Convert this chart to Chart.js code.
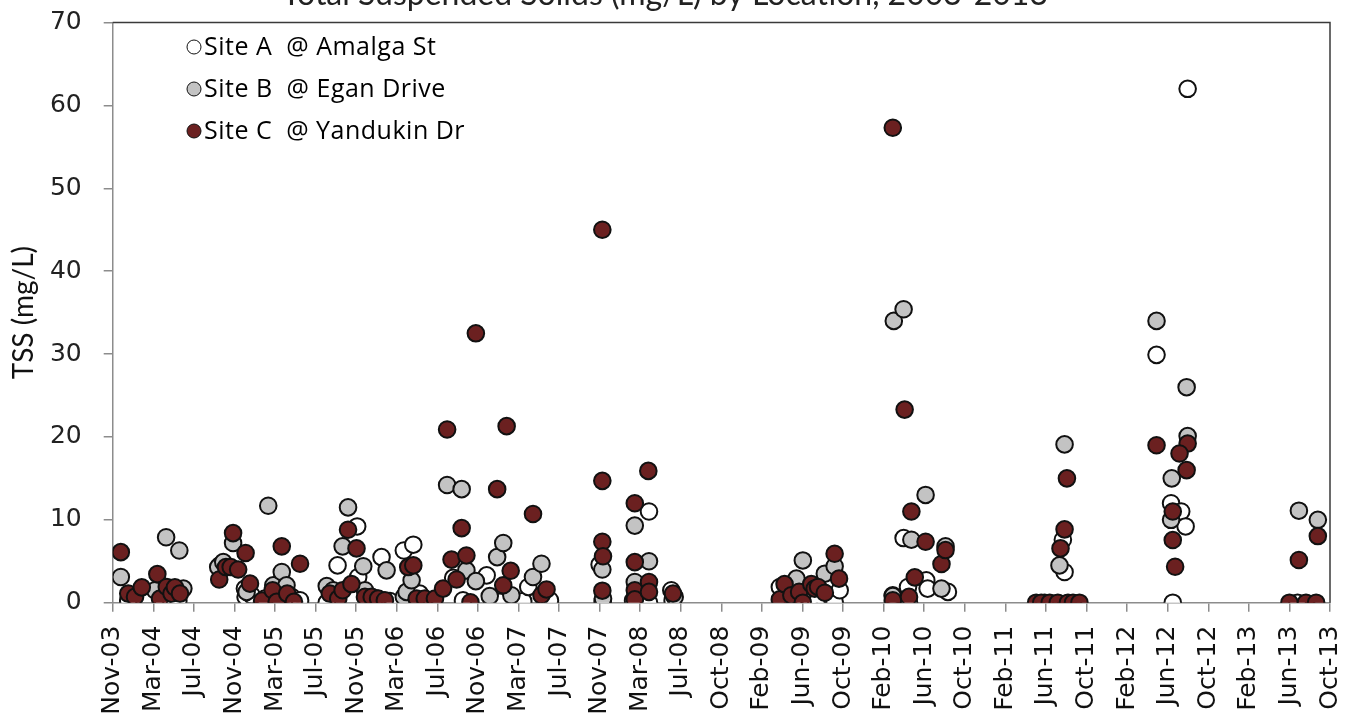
<!DOCTYPE html>
<html>
<head>
<meta charset="utf-8">
<script src="https://cdn.jsdelivr.net/npm/chart.js@4/dist/chart.umd.min.js"></script>
<style>
  html, body { margin: 0; padding: 0; background: #fff; overflow: hidden; }
  #wrap { position: absolute; left: 0; top: -26px; width: 1355px; height: 745px; }
</style>
</head>
<body>
<div id="wrap"><canvas id="c" width="1355" height="745"></canvas></div>
<script>
// ---- data (x = days after 25-Nov-2003, y = TSS mg/L) ----
const tickLabels = ["Nov-03","Mar-04","Jul-04","Nov-04","Mar-05","Jul-05","Nov-05","Mar-06","Jul-06","Nov-06","Mar-07","Jul-07","Nov-07","Mar-08","Jul-08","Oct-08","Feb-09","Jun-09","Oct-09","Feb-10","Jun-10","Oct-10","Feb-11","Jun-11","Oct-11","Feb-12","Jun-12","Oct-12","Feb-13","Jun-13","Oct-13"];
const seriesNames = ["Site A  @ Amalga St", "Site B  @ Egan Drive", "Site C  @ Yandukin Dr"];

const siteA_days = [46,150,174,194,317,391,393,411,450,529,554,633,665,723,726,780,795,820,861,889,908,1007,1036,1106,1145,1214,1229,1293,1440,1449,1539,1586,1586,1652,1656,1973,2012,2061,2081,2135,2150,2307,2339,2352,2355,2406,2410,2470,2756,2810,2815,3087,3130,3135,3160,3173,3179,3504];
const siteA_tss  = [0.3,0.1,0,0.3,4.5,1.7,0.7,0.9,0.5,0.7,0.3,0,4.5,9.2,3.1,0.5,5.5,0.2,6.3,7.0,1.1,3.0,0.3,3.3,0.1,0.2,1.9,0.3,4.6,0.2,0.3,11.0,0,1.5,0.3,1.9,0,0.5,0,0.1,1.5,0.9,7.8,1.9,0,2.7,1.7,1.3,0,7.6,3.7,29.9,12.0,0,11.0,9.2,62.0,0];

const siteB_days = [24,125,158,197,209,312,327,356,396,460,475,500,514,633,652,680,696,741,746,810,861,869,884,989,1032,1046,1074,1115,1137,1155,1179,1243,1268,1448,1450,1544,1544,1586,1662,2022,2041,2106,2135,2307,2310,2339,2362,2404,2451,2463,2800,2815,3087,3130,3132,3176,3179,3508,3564];
const siteB_tss  = [3.1,1.5,7.9,6.3,1.7,4.3,4.9,7.2,1.3,11.7,2.1,3.7,2.1,2.0,1.5,6.8,11.5,4.4,1.5,3.9,0.7,1.3,2.7,14.2,13.7,3.9,2.6,0.8,5.5,7.2,0.9,3.1,4.7,4.0,0.5,9.3,2.5,5.0,0.7,2.9,5.1,3.5,4.4,0.8,34.0,35.4,7.6,13.0,1.7,6.8,4.5,19.1,34.0,10.0,15.0,26.0,20.1,11.1,10.0];

const siteC_days = [24,46,66,86,132,140,160,174,184,199,315,335,349,356,371,393,406,442,473,485,500,516,536,554,642,667,680,696,706,721,746,766,785,805,874,889,899,923,953,977,989,1002,1017,1032,1046,1058,1074,1137,1155,1165,1177,1243,1268,1283,1448,1448,1448,1450,1448,1544,1584,1544,1544,1544,1586,1586,1657,1973,1987,2007,2030,2041,2066,2076,2086,2106,2135,2148,2307,2307,2342,2355,2362,2372,2404,2451,2463,2731,2746,2771,2795,2825,2840,2859,2815,2803,2822,3087,3179,3155,3176,3135,3135,3142,3480,3529,3559,3508,3564];
const siteC_tss  = [6.1,1.1,0.7,1.85,3.45,0.5,1.9,1.1,1.85,1.1,2.8,4.3,4.3,8.4,4.0,6.0,2.3,0.25,1.5,0.1,6.8,1.1,0.1,4.7,1.1,0.5,1.5,8.8,2.25,6.55,0.7,0.7,0.5,0.3,4.3,4.5,0.5,0.5,0.5,1.7,20.9,5.2,2.8,9.0,5.7,0.05,32.5,13.7,2.1,21.3,3.85,10.7,0.9,1.6,45.0,14.7,7.35,5.6,1.45,12.0,15.9,4.9,1.5,0.4,2.5,1.3,1.1,0.4,2.25,0.9,1.3,0,2.25,1.7,1.9,1.2,5.9,2.9,57.3,0.3,23.3,0.7,11.0,3.06,7.35,4.67,6.35,0,0,0,0,0,0,0,8.85,6.55,15.0,19.0,19.2,18.0,16.0,11.0,7.56,4.34,0,0,0,5.15,8.04];

const yTicks = [0,10,20,30,40,50,60,70];
const dayStep = 120;

function pts(xs, ys) { return xs.map((x, i) => ({ x: x, y: ys[i] })); }

const fills = ["#ffffff", "#c3c3c3", "#6b2020"];

const plotFrame = {
  id: 'plotFrame',
  afterDatasetsDraw(chart) {
    const { ctx, chartArea: a } = chart;
    ctx.save();
    ctx.strokeStyle = '#3a3a3a';
    ctx.lineWidth = 1.5;
    ctx.beginPath();
    ctx.moveTo(a.left, a.top);
    ctx.lineTo(a.right, a.top);
    ctx.lineTo(a.right, a.bottom);
    ctx.stroke();
    // legend inside plot
    const fx = 194, fy = 73, gap = 42;
    chart.data.datasets.forEach((ds, i) => {
      const y = fy + i * gap;
      ctx.beginPath();
      ctx.arc(fx, y, 7, 0, Math.PI * 2);
      ctx.fillStyle = ds.backgroundColor;
      ctx.fill();
      ctx.lineWidth = 1;
      ctx.strokeStyle = '#111';
      ctx.stroke();
      ctx.fillStyle = '#000';
      ctx.font = '25px "Open Sans"';
      if ('letterSpacing' in ctx) ctx.letterSpacing = '0.5px';
      ctx.textBaseline = 'middle';
      ctx.textAlign = 'left';
      ctx.fillText(ds.label, fx + 10, y + 1);
    });
    ctx.restore();
  }
};

new Chart(document.getElementById('c'), {
  type: 'scatter',
  data: {
    datasets: [
      { label: seriesNames[0], data: pts(siteA_days, siteA_tss), backgroundColor: fills[0], order: 2 },
      { label: seriesNames[1], data: pts(siteB_days, siteB_tss), backgroundColor: fills[1], order: 1 },
      { label: seriesNames[2], data: pts(siteC_days, siteC_tss), backgroundColor: fills[2], order: 0 }
    ]
  },
  options: {
    responsive: false,
    animation: false,
    events: [],
    layout: { padding: { left: 0, right: 25, top: 0, bottom: 0 } },
    elements: { point: { radius: 8.3, borderWidth: 2, borderColor: '#111', hoverRadius: 8.3 } },
    plugins: {
      legend: { display: false },
      tooltip: { enabled: false },
      title: {
        display: true,
        text: 'Total Suspended Solids (mg/L) by Location, 2003-2013',
        color: '#222',
        font: { family: 'Lato', size: 32, weight: 'normal' },
        padding: { top: 1.3, bottom: 8.8 }
      }
    },
    scales: {
      x: {
        type: 'linear',
        min: 0,
        max: dayStep * (tickLabels.length - 1),
        afterFit(s) { s.height = 745 - 628.7; s.paddingLeft = 0; s.paddingRight = 0; },
        border: { color: '#8c8c8c', width: 1.5 },
        grid: { drawOnChartArea: false, drawTicks: true, tickLength: 9, color: '#8c8c8c', lineWidth: 1.5 },
        ticks: {
          stepSize: dayStep,
          autoSkip: false,
          maxRotation: 90,
          minRotation: 90,
          padding: 14,
          color: '#111',
          font: { family: 'DejaVu Sans', size: 25 },
          callback: (v) => tickLabels[Math.round(v / dayStep)]
        }
      },
      y: {
        min: yTicks[0],
        max: yTicks[yTicks.length - 1],
        afterFit(s) { s.width = 112.7; },
        border: { color: '#8c8c8c', width: 1.5 },
        grid: { drawOnChartArea: false, drawTicks: true, tickLength: 9, color: '#8c8c8c', lineWidth: 1.5 },
        afterBuildTicks(s) { s.ticks = yTicks.map(v => ({ value: v })); },
        ticks: {
          padding: 22,
          color: '#222',
          font: { family: 'DejaVu Sans', size: 25 }
        },
        title: {
          display: true,
          text: 'TSS (mg/L)',
          color: '#111',
          font: { family: 'Lato', size: 28 },
          padding: { top: 7, bottom: 0 }
        }
      }
    }
  },
  plugins: [plotFrame]
});
</script>
</body>
</html>
